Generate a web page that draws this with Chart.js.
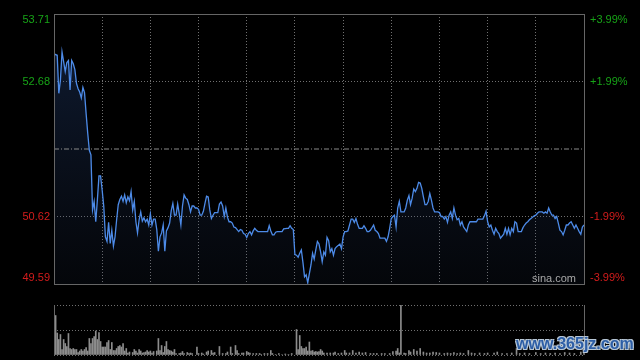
<!DOCTYPE html>
<html><head><meta charset="utf-8">
<script src="https://cdn.jsdelivr.net/npm/chart.js@4.4.0/dist/chart.umd.min.js"></script>
<style>
html,body{margin:0;padding:0;background:#000;width:640px;height:360px;overflow:hidden;}
#wrap{position:relative;width:640px;height:360px;background:#000;}
#price{position:absolute;left:0;top:0;}
#vol{position:absolute;left:0;top:290px;}
.sina{position:absolute;left:532px;top:273px;font:11px Arial,"Liberation Sans",sans-serif;line-height:11px;color:#a8a8a8;}
.wm{position:absolute;left:516px;top:335px;font:bold 16px Arial,"Liberation Sans",sans-serif;line-height:18px;color:#2d5ea6;text-shadow:1px 1px 0 #b8c8d8,-1px -1px 0 #b8c8d8,1px -1px 0 #b8c8d8,-1px 1px 0 #b8c8d8;}
</style></head>
<body><div id="wrap">
<canvas id="price" width="640" height="292"></canvas>
<canvas id="vol" width="640" height="70"></canvas>
<div class="sina">sina.com</div>
<div class="wm">www.365jz.com</div>
</div>
<script>
// ---- data ----
const prevClose = 51.65;
const priceTicks = [49.59, 50.62, 51.65, 52.68, 53.71];
const timeTicks = [0, 30, 60, 90, 120, 150, 180, 210, 240, 270, 300, 330];
const priceMinutes = [0,2,3,4,5,7,8,9,10,11,12,13,14,15,16,17,18,19,20,21,22,23,24,25,26,27,28,29,30,31,32,33,34,35,36,37,38,39,
40,41,42,43,44,45,46,47,48,49,50,51,52,53,54,55,56,57,58,59,60,61,62,63,64,65,66,67,68,69,70,71,72,73,74,75,76,77,78,79,
80,81,82,83,84,85,86,87,88,89,90,91,92,93,94,95,96,97,98,99,100,101,102,103,104,105,106,107,108,109,110,111,112,113,115,116,117,118,119,
120,121,122,123,124,125,126,127,129,131,133,134,135,136,137,138,139,141,142,143,145,146,147,148,149,
150,151,152,153,154,155,156,157,158,159,160,161,162,163,164,165,166,167,168,169,170,171,172,173,174,175,176,178,179,
180,181,182,183,184,185,186,187,188,189,190,191,192,193,194,195,196,197,199,200,201,202,203,204,206,207,208,209,
210,211,212,213,214,215,216,217,218,219,220,221,222,223,224,225,226,227,228,229,230,231,232,233,234,235,236,237,239,
240,241,242,243,244,245,246,247,248,249,250,251,252,253,254,255,257,258,259,260,262,263,264,266,267,268,269,
270,271,272,273,274,275,276,277,278,280,281,282,283,284,285,286,287,288,289,290,291,292,293,294,295,296,297,299,
300,301,302,303,304,305,306,307,308,309,310,311,312,313,314,315,316,317,318,319,320,321,322,323,324,325,326,327,328,329,330];
const prices = [53.10,53.08,52.50,52.70,53.13,52.83,52.97,53.00,52.55,53.00,52.95,52.86,52.65,52.57,52.52,52.43,52.59,52.51,52.19,51.89,51.63,51.56,50.72,50.85,50.54,50.87,51.24,51.24,51.02,50.77,50.31,50.24,50.53,50.21,50.41,50.17,50.31,50.57,
50.80,50.88,50.93,50.85,50.95,50.83,50.92,50.86,51.00,50.72,50.85,50.54,50.37,50.57,50.69,50.55,50.60,50.54,50.58,50.49,50.66,50.49,50.58,50.58,50.42,50.09,50.31,50.37,50.49,50.09,50.40,50.45,50.52,50.71,50.82,50.64,50.64,50.81,50.66,50.49,
50.78,50.95,50.90,50.88,50.80,50.69,50.78,50.78,50.75,50.75,50.73,50.64,50.64,50.70,50.82,50.93,50.92,50.72,50.59,50.64,50.68,50.68,50.68,50.81,50.84,50.78,50.62,50.75,50.61,50.54,50.54,50.52,50.46,50.45,50.39,50.42,50.41,50.36,50.35,
50.30,50.36,50.39,50.34,50.40,50.44,50.41,50.39,50.39,50.39,50.39,50.48,50.40,50.34,50.34,50.38,50.39,50.39,50.39,50.43,50.44,50.44,50.48,50.44,50.42,
50.04,50.03,50.00,50.06,50.11,49.92,49.70,49.73,49.61,49.75,49.88,50.06,49.97,50.11,50.24,50.20,50.08,49.93,50.08,50.03,50.30,50.25,50.08,50.13,50.03,50.13,50.16,50.20,50.13,
50.31,50.39,50.39,50.40,50.49,50.58,50.58,50.53,50.59,50.50,50.44,50.44,50.44,50.48,50.44,50.39,50.39,50.41,50.49,50.41,50.39,50.36,50.29,50.29,50.29,50.24,50.31,50.44,
50.59,50.62,50.64,50.46,50.75,50.85,50.69,50.69,50.69,50.75,50.87,50.94,50.80,50.90,51.04,51.00,51.05,51.14,51.13,51.05,50.92,50.80,50.80,50.85,50.97,50.87,50.75,50.69,50.69,
50.68,50.62,50.62,50.58,50.62,50.53,50.64,50.69,50.59,50.75,50.64,50.57,50.59,50.49,50.54,50.46,50.39,50.49,50.54,50.54,50.54,50.54,50.58,50.58,50.58,50.63,50.70,
50.54,50.46,50.49,50.41,50.35,50.44,50.39,50.36,50.29,50.35,50.44,50.35,50.44,50.34,50.44,50.39,50.54,50.52,50.39,50.39,50.39,50.45,50.49,50.52,50.54,50.57,50.59,50.63,
50.64,50.67,50.69,50.69,50.69,50.67,50.69,50.67,50.75,50.69,50.64,50.64,50.59,50.62,50.52,50.41,50.39,50.34,50.41,50.49,50.49,50.52,50.54,50.49,50.44,50.49,50.44,50.39,50.35,50.46,50.49];
const volMinutes = [1,2,3,4,5,6,7,8,9,10,11,12,13,14,15,16,17,18,19,20,21,22,23,24,25,26,27,28,29,30,31,32,33,34,35,36,37,38,39,40,41,42,43,44,45,46,47,49,50,51,52,53,54,55,56,57,58,59,60,61,62,64,65,66,67,68,69,70,71,72,73,74,75,76,78,79,80,81,83,84,85,86,89,90,92,93,95,96,98,99,100,103,105,107,108,110,111,113,114,115,117,118,120,121,122,124,126,128,129,131,133,135,136,138,140,142,144,146,148,
151,152,153,154,155,156,157,158,159,160,161,162,163,164,165,166,167,168,170,172,174,175,177,179,181,182,184,186,188,190,192,194,197,199,201,204,206,209,211,213,214,215,216,218,219,221,222,224,226,228,230,232,234,236,238,240,243,245,247,249,251,253,255,258,260,262,265,268,270,274,276,279,282,285,288,290,293,296,300,303,306,309,312,315,318,321,324,328,330];
const volumes = [79,44,31,41,11,31,23,17,43,13,11,13,11,11,5,8,11,8,11,15,8,33,23,33,37,48,31,45,27,16,16,16,25,29,11,25,9,9,13,17,19,16,23,8,13,4,6,5,11,8,4,11,8,4,5,6,9,6,8,4,7,8,33,9,19,5,17,27,11,9,8,6,11,3,3,4,7,3,5,3,4,3,16,3,4,2,6,8,9,4,5,17,3,3,6,16,3,19,9,3,4,4,7,5,4,3,3,3,1,3,3,9,3,1,3,1,2,1,3,
51,11,39,17,13,13,16,8,26,8,9,6,7,6,7,11,8,4,4,4,4,6,3,4,9,4,4,9,4,6,4,5,3,3,3,3,3,3,7,8,13,4,150,4,3,9,6,11,8,13,6,4,4,6,5,4,3,4,3,5,3,4,3,9,4,3,4,3,4,4,6,3,3,4,13,3,4,3,5,3,4,3,4,3,5,4,3,6,10];

// ---- styling / helpers ----
const fontFam = 'Arial, "Liberation Sans", sans-serif';
const GRID = '#707070';
const isPrev = v => Math.abs(v - prevClose) < 1e-6;

const frame = {
  id: 'frame',
  afterDraw(chart) {
    const {ctx, chartArea: a} = chart;
    ctx.save();
    ctx.strokeStyle = '#666';
    ctx.lineWidth = 1;
    ctx.strokeRect(Math.round(a.left) + 0.5, Math.round(a.top) + 0.5, Math.round(a.right - a.left), Math.round(a.bottom - a.top));
    ctx.restore();
  }
};

const axisLabels = {
  id: 'axisLabels',
  afterDraw(chart) {
    const ctx = chart.ctx, y = chart.scales.y, a = chart.chartArea;
    ctx.save();
    ctx.font = '11px ' + fontFam;
    ctx.textBaseline = 'middle';
    y.ticks.forEach(t => {
      if (isPrev(t.value)) return;
      let py = y.getPixelForValue(t.value);
      py = Math.min(Math.max(py, a.top + 6), a.bottom - 6);
      ctx.fillStyle = t.value > prevClose ? '#17a317' : '#d41c1c';
      ctx.textAlign = 'right';
      ctx.fillText(t.value.toFixed(2), a.left - 4, py);
      const pct = (t.value - prevClose) / prevClose * 100;
      ctx.textAlign = 'left';
      ctx.fillText((pct > 0 ? '+' : '') + pct.toFixed(2) + '%', a.right + 6, py);
    });
    ctx.restore();
  }
};

new Chart(document.getElementById('price'), {
  type: 'line',
  data: {
    datasets: [
      {
        data: priceMinutes.map((m, i) => ({x: m, y: prices[i]})),
        borderColor: '#4d8be8',
        borderWidth: 1.3,
        pointRadius: 0,
        tension: 0,
        fill: 'start',
        backgroundColor: (c) => {
          const a = c.chart.chartArea;
          if (!a) return 'rgba(0,0,0,0)';
          const g = c.chart.ctx.createLinearGradient(0, a.top, 0, a.bottom);
          g.addColorStop(0, 'rgba(40,75,140,0.38)');
          g.addColorStop(1, 'rgba(40,60,100,0.10)');
          return g;
        }
      },
      {
        data: [{x: 0, y: prevClose}, {x: 330, y: prevClose}],
        borderColor: '#8a8a8a',
        borderWidth: 1,
        borderDash: [5, 2, 1, 2],
        pointRadius: 0,
        fill: false
      }
    ]
  },
  options: {
    responsive: false,
    animation: false,
    events: [],
    layout: {padding: {left: 54, right: 56, top: 14, bottom: 8}},
    plugins: {legend: {display: false}, tooltip: {enabled: false}, filler: {drawTime: 'beforeDatasetsDraw'}},
    scales: {
      x: {
        type: 'linear', min: 0, max: 330, offset: false,
        afterBuildTicks: s => { s.ticks = timeTicks.map(v => ({value: v})); },
        afterFit: s => { s.height = 0; },
        ticks: {display: false},
        grid: {color: c => (c.tick && (c.tick.value === 0 || c.tick.value === 330)) ? 'rgba(0,0,0,0)' : GRID, drawTicks: false, borderDash: [1, 2]},
        border: {display: false, dash: [1, 2]}
      },
      y: {
        type: 'linear', min: 49.59, max: 53.71,
        afterBuildTicks: s => { s.ticks = priceTicks.map(v => ({value: v})); },
        afterFit: s => { s.width = 0; },
        ticks: {display: false},
        grid: {color: c => (c.tick && isPrev(c.tick.value)) ? 'rgba(0,0,0,0)' : GRID, drawTicks: false, borderDash: [1, 2]},
        border: {display: false, dash: [1, 2]}
      }
    }
  },
  plugins: [frame, axisLabels]
});

const volFrame = {
  id: 'volFrame',
  afterDraw(chart) {
    const {ctx, chartArea: a} = chart;
    ctx.save();
    ctx.strokeStyle = '#666';
    ctx.lineWidth = 1;
    ctx.beginPath();
    ctx.moveTo(Math.round(a.left) + 0.5, a.top);
    ctx.lineTo(Math.round(a.left) + 0.5, a.bottom);
    ctx.moveTo(Math.round(a.right) + 0.5, a.top);
    ctx.lineTo(Math.round(a.right) + 0.5, a.bottom);
    ctx.stroke();
    ctx.restore();
  }
};

new Chart(document.getElementById('vol'), {
  type: 'bar',
  data: {
    datasets: [{
      data: volMinutes.map((m, i) => ({x: m, y: volumes[i]})),
      backgroundColor: '#8c8c8c',
      borderWidth: 0,
      barThickness: 1,
      grouped: false
    }]
  },
  options: {
    responsive: false,
    animation: false,
    events: [],
    layout: {padding: {left: 54, right: 56, top: 15, bottom: 5}},
    plugins: {legend: {display: false}, tooltip: {enabled: false}},
    scales: {
      x: {
        type: 'linear', min: 0, max: 330, offset: false,
        afterFit: s => { s.height = 0; },
        ticks: {display: false},
        grid: {display: false, offset: false},
        border: {display: false}
      },
      y: {
        type: 'linear', min: 0, max: 100,
        afterBuildTicks: s => { s.ticks = [0, 50, 100].map(v => ({value: v})); },
        afterFit: s => { s.width = 0; },
        ticks: {display: false},
        grid: {color: GRID, drawTicks: false, borderDash: [1, 2]},
        border: {display: false, dash: [1, 2]}
      }
    }
  },
  plugins: [volFrame]
});
</script>
</body></html>
